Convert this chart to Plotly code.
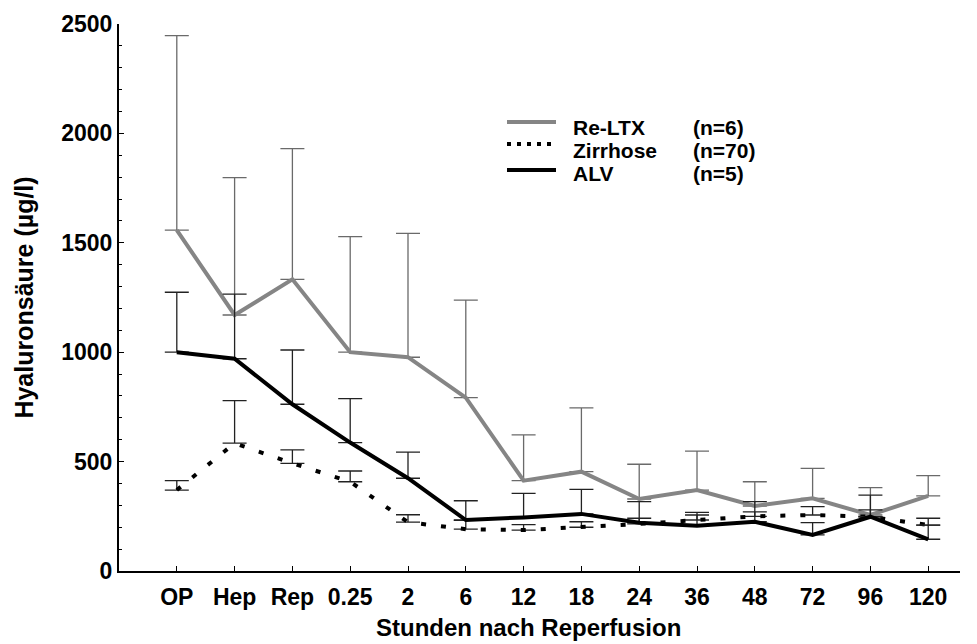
import plotly.graph_objects as go

categories = ["OP", "Hep", "Rep", "0.25", "2", "6", "12", "18", "24", "36", "48", "72", "96", "120"]

re_ltx_mean = [1558, 1170, 1333, 1000, 977, 792, 413, 454, 329, 370, 297, 332, 256, 343]
re_ltx_sd = [889, 628, 597, 528, 566, 446, 209, 292, 159, 178, 111, 137, 125, 93]

zirrhose_mean = [370, 584, 492, 408, 223, 191, 187, 200, 215, 233, 250, 256, 248, 210]
zirrhose_sd = [43, 195, 62, 49, 34, 40, 25, 25, 26, 23, 20, 38, 31, 31]

alv_mean = [1000, 970, 762, 587, 424, 233, 245, 261, 221, 207, 225, 165, 248, 145]
alv_sd = [274, 295, 248, 201, 119, 88, 110, 112, 96, 61, 92, 56, 99, 65]

series_names = ["Re-LTX", "Zirrhose", "ALV"]
series_n = ["(n=6)", "(n=70)", "(n=5)"]

x_title = "Stunden nach Reperfusion"
y_title = "Hyaluronsäure (µg/l)"

FONT = "Liberation Sans, Arial, sans-serif"
x_idx = list(range(len(categories)))

GRAY = "#858585"
styles = [
    dict(color=GRAY, width=4),
    dict(color="black", width=4, dash="5px,15px"),
    dict(color="black", width=4),
]
err_colors = ["#6a6a6a", "#222222", "#222222"]
means = [re_ltx_mean, zirrhose_mean, alv_mean]
sds = [re_ltx_sd, zirrhose_sd, alv_sd]

fig = go.Figure()
for name, m, s, st, ec in zip(series_names, means, sds, styles, err_colors):
    fig.add_trace(go.Scatter(
        x=x_idx, y=m, mode="lines", name=name, showlegend=False,
        line=st,
        error_y=dict(type="data", symmetric=False, array=s,
                     arrayminus=[0] * len(s), color=ec,
                     thickness=1.3, width=12),
    ))

L, R, T, B = 119, 17, 24, 73
W, H = 977, 644
pw, ph = W - L - R, H - T - B

def px_x(p):
    return (p - L) / pw

def px_y(p):
    return (H - B - p) / ph

# manual legend (sample lines + labels)
legend_text_y = [127, 150, 173]
legend_line_y = [122, 144, 170]
legend_dash = ["solid", "4px,6px", "solid"]
shapes = []
for st, ly, dsh in zip(styles, legend_line_y, legend_dash):
    shapes.append(dict(type="line", xref="paper", yref="paper",
                       x0=px_x(507), x1=px_x(556), y0=px_y(ly), y1=px_y(ly),
                       line=dict(color=st["color"], width=st["width"], dash=dsh)))
annotations = []
for name, n, ty in zip(series_names, series_n, legend_text_y):
    annotations.append(dict(x=px_x(572), y=px_y(ty), xref="paper", yref="paper",
                            text=name, showarrow=False, xanchor="left", yanchor="middle",
                            borderpad=0,
                            font=dict(family=FONT, size=21, color="black", weight="bold")))
    annotations.append(dict(x=px_x(692), y=px_y(ty), xref="paper", yref="paper",
                            text=n, showarrow=False, xanchor="left", yanchor="middle",
                            borderpad=0,
                            font=dict(family=FONT, size=21, color="black", weight="bold")))
# x-axis title
annotations.append(dict(x=px_x(528), y=px_y(627), xref="paper", yref="paper",
                        text=x_title, showarrow=False, xanchor="center", yanchor="middle",
                        borderpad=0,
                        font=dict(family=FONT, size=24, color="black", weight="bold")))

fig.update_layout(
    width=W, height=H,
    margin=dict(l=L, r=R, t=T, b=B),
    paper_bgcolor="white", plot_bgcolor="white",
    font=dict(family=FONT, size=22, color="black", weight="bold"),
    showlegend=False,
    shapes=shapes,
    annotations=annotations,
    xaxis=dict(
        range=[-1, 13.55], tickmode="array", tickvals=x_idx, ticktext=categories,
        showline=True, linecolor="black", linewidth=2, mirror=False,
        ticks="inside", ticklen=5, tickwidth=1, tickcolor="black",
        showgrid=False, zeroline=False, ticklabelstandoff=4,
        tickfont=dict(family=FONT, size=23, color="black", weight="bold"),
    ),
    yaxis=dict(
        range=[0, 2500], tickmode="linear", tick0=0, dtick=500,
        showline=True, linecolor="black", linewidth=2,
        ticks="inside", ticklen=5, tickwidth=1, tickcolor="black",
        minor=dict(dtick=100, ticks="inside", ticklen=3, tickwidth=1, tickcolor="black"),
        showgrid=False, zeroline=False,
        tickfont=dict(family=FONT, size=23, color="black", weight="bold"),
        title=dict(text=y_title, standoff=20,
                   font=dict(family=FONT, size=25, color="black", weight="bold")),
    ),
)

fig.write_html("out.html")
